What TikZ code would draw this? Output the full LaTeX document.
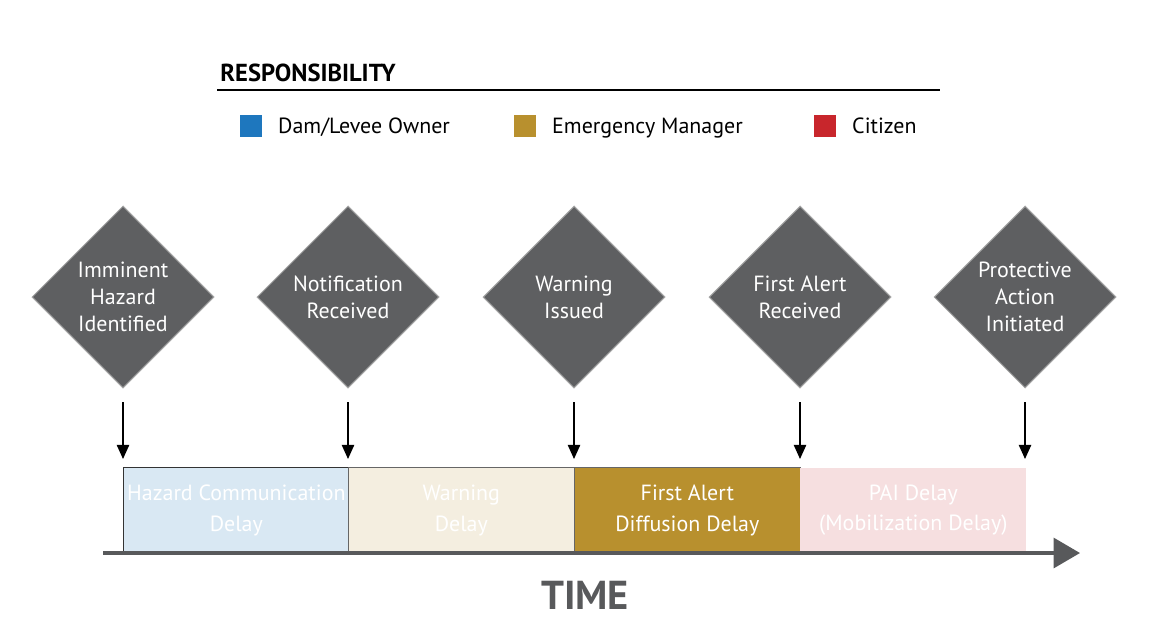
\documentclass[tikz,border=0pt]{standalone}
\usepackage{fontspec}
\setmainfont{PT Sans}
\usetikzlibrary{shapes.geometric,arrows.meta}
\definecolor{milestone}{HTML}{5E5F61}
\definecolor{owner}{HTML}{1E77BE}
\definecolor{manager}{HTML}{B8902E}
\definecolor{citizen}{HTML}{C8262C}
\definecolor{ownerlight}{HTML}{D9E8F3}
\definecolor{managerlight}{HTML}{F4EEE0}
\definecolor{citizenlight}{HTML}{F6DFE0}
\definecolor{timegray}{HTML}{58595B}
\tikzset{
  milestone/.style={diamond,fill=milestone,draw=gray!70,line width=0.6pt,
    minimum width=3.64cm,minimum height=3.64cm,inner sep=0pt,
    text=white,align=center,font=\fontsize{12.5}{15.5}\selectfont},
  delay/.style={minimum width=4.52cm,minimum height=1.7cm,inner sep=0pt,anchor=south west,
    text=white,align=center,font=\fontsize{12.5}{17.5}\selectfont},
  legendbox/.style={minimum size=0.44cm,inner sep=0pt},
  legendtext/.style={anchor=base west,font=\fontsize{12.5}{15}\selectfont},
  drop/.style={-{Triangle[width=7pt,length=8pt]},line width=0.8pt}
}
\begin{document}
\begin{tikzpicture}[x=0.02cm,y=-0.02cm]
  \useasboundingbox (0,0) rectangle (1168,643);

  % heading and legend
  \node[anchor=south west,inner sep=0pt,font=\bfseries\fontsize{14}{16}\selectfont] (head) at (220,82) {RESPONSIBILITY};
  \coordinate (rulel) at (217,90);
  \coordinate (ruler) at (940,90);
  \draw[line width=1pt] (rulel) -- (ruler);
  \node[legendbox,fill=owner] (kowner) at (251,126) {};
  \node[legendtext] at (272,133) {Dam/Levee Owner};
  \node[legendbox,fill=manager] (kmanager) at (525,126) {};
  \node[legendtext] at (546,133) {Emergency Manager};
  \node[legendbox,fill=citizen] (kcitizen) at (825,126) {};
  \node[legendtext] at (846,133) {Citizen};

  % milestones
  \node[milestone] (m1) at (123,297) {Imminent\\Hazard\\Identified};
  \node[milestone] (m2) at (348,297) {Notification\\Received};
  \node[milestone] (m3) at (574,297) {Warning\\Issued};
  \node[milestone] (m4) at (800,297) {First Alert\\Received};
  \node[milestone] (m5) at (1025,297) {Protective\\Action\\Initiated};

  % delay boxes
  \node[delay,fill=ownerlight,draw=black!80] (b1) at (123,553) {Hazard Communication\\Delay};
  \node[delay,fill=managerlight,draw=black!60] (b2) at (348,553) {Warning\\Delay};
  \node[delay,fill=manager,draw=black!60] (b3) at (574,553) {First Alert\\Diffusion Delay};
  \node[delay,fill=citizenlight] (b4) at (800,553) {PAI Delay\\(Mobilization Delay)};

  % drops from milestones to the time line
  \foreach \i/\x in {1/123,2/348,3/574,4/800,5/1025} {
    \coordinate (t\i) at (\x,402);
    \coordinate (h\i) at (\x,459);
    \draw[drop] (t\i) -- (h\i);
  }

  % time axis
  \coordinate (axl) at (103,553);
  \coordinate (axr) at (1080,553);
  \draw[timegray,line width=2pt,-{Triangle[width=17pt,length=15pt]}] (axl) -- (axr);
  \node[text=timegray,font=\bfseries\fontsize{23}{26}\selectfont] (time) at (585,595) {TIME};
\end{tikzpicture}
\end{document}
